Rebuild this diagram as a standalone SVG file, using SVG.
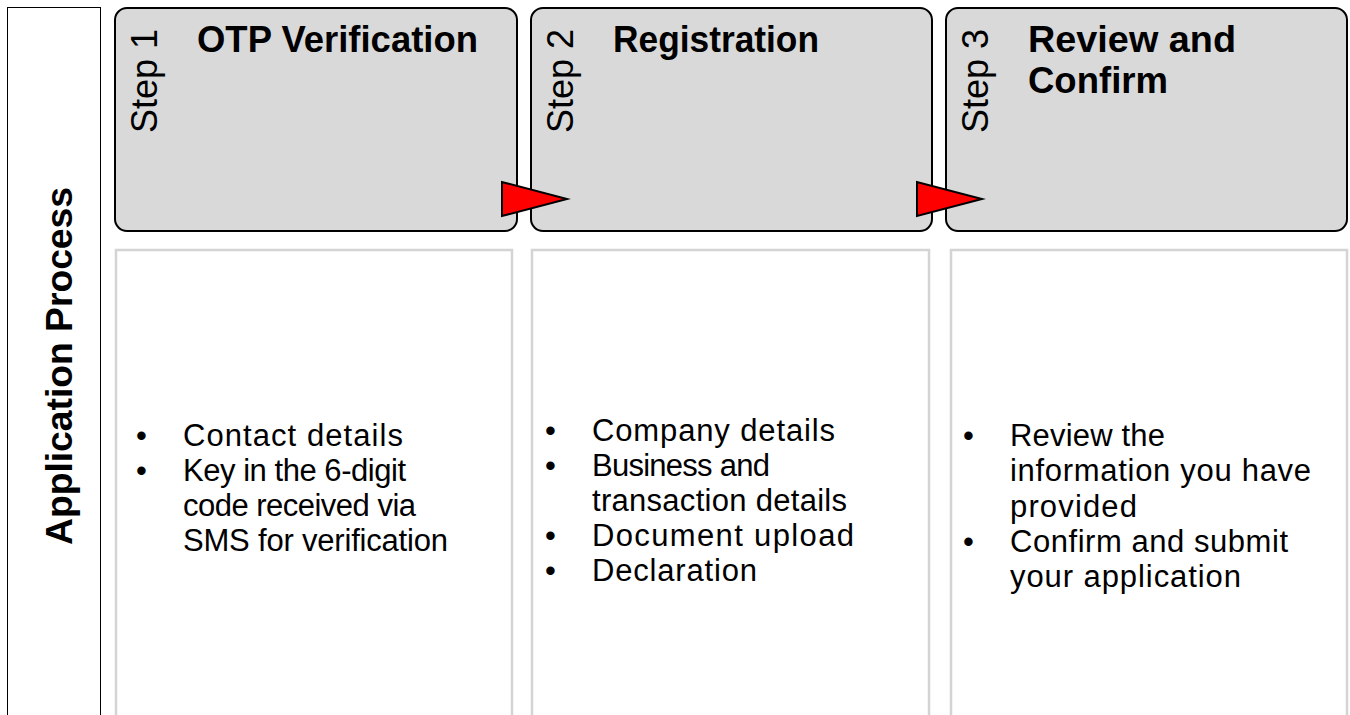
<svg xmlns="http://www.w3.org/2000/svg" width="1350" height="715" viewBox="0 0 1350 715">
  <style>
    .hdr { fill: #d9d9d9; stroke: #000; stroke-width: 2; }
    .body { fill: #fff; stroke: #d4d4d4; stroke-width: 2.5; }
    .lane { fill: #fff; stroke: #000; stroke-width: 1; }
    .step { font-family: "Liberation Sans", Arial, sans-serif; font-size: 36px; font-weight: normal; fill: #000; }
    .title { font-family: "Liberation Sans", Arial, sans-serif; font-size: 36px; font-weight: bold; fill: #000; }
    .lanetxt { font-family: "Liberation Sans", Arial, sans-serif; font-size: 37px; font-weight: bold; fill: #000; }
    .txt { font-family: "Liberation Sans", Arial, sans-serif; font-size: 31px; fill: #000; }
    .arrow { fill: #ff0000; stroke: #000; stroke-width: 2; stroke-linejoin: miter; }
  </style>
  <rect width="1350" height="715" fill="#fff"/>

  <g id="lane">
    <rect class="lane" x="7.5" y="7.5" width="93" height="720"/>
    <text class="lanetxt" transform="translate(72,366) rotate(-90)" text-anchor="middle" textLength="358" lengthAdjust="spacingAndGlyphs">Application Process</text>
  </g>

  <g id="step1">
    <rect class="hdr" x="115" y="8" width="402" height="223" rx="12" ry="12"/>
    <text class="step" transform="translate(157,133) rotate(-90)">Step 1</text>
    <text class="title" x="197" y="52" textLength="281" lengthAdjust="spacingAndGlyphs">OTP Verification</text>
  </g>

  <g id="step2">
    <rect class="hdr" x="531" y="8" width="401" height="223" rx="12" ry="12"/>
    <text class="step" transform="translate(573,133) rotate(-90)">Step 2</text>
    <text class="title" x="613" y="52" textLength="206" lengthAdjust="spacingAndGlyphs">Registration</text>
  </g>

  <g id="step3">
    <rect class="hdr" x="946" y="8" width="401" height="223" rx="12" ry="12"/>
    <text class="step" transform="translate(988,133) rotate(-90)">Step 3</text>
    <text class="title" x="1028" y="52" textLength="208" lengthAdjust="spacingAndGlyphs">Review and</text>
    <text class="title" x="1028" y="93" textLength="140" lengthAdjust="spacingAndGlyphs">Confirm</text>
  </g>

  <g id="body1">
    <rect class="body" x="116" y="250" width="396" height="480"/>
    <text class="txt" x="136" y="446">•</text>
    <text class="txt" x="183" y="446" textLength="220">Contact details</text>
    <text class="txt" x="136" y="481">•</text>
    <text class="txt" x="183" y="481" textLength="223">Key in the 6-digit</text>
    <text class="txt" x="183" y="516" textLength="233">code received via</text>
    <text class="txt" x="183" y="551" textLength="265">SMS for verification</text>
  </g>

  <g id="body2">
    <rect class="body" x="532" y="250" width="397" height="480"/>
    <text class="txt" x="545" y="441">•</text>
    <text class="txt" x="592" y="441" textLength="243">Company details</text>
    <text class="txt" x="545" y="476">•</text>
    <text class="txt" x="592" y="476" textLength="178">Business and</text>
    <text class="txt" x="592" y="511" textLength="255">transaction details</text>
    <text class="txt" x="545" y="546">•</text>
    <text class="txt" x="592" y="546" textLength="262">Document upload</text>
    <text class="txt" x="545" y="581">•</text>
    <text class="txt" x="592" y="581" textLength="165">Declaration</text>
  </g>

  <g id="body3">
    <rect class="body" x="951" y="250" width="396" height="480"/>
    <text class="txt" x="963" y="446">•</text>
    <text class="txt" x="1010" y="446" textLength="155">Review the</text>
    <text class="txt" x="1010" y="481" textLength="301">information you have</text>
    <text class="txt" x="1010" y="517" textLength="127">provided</text>
    <text class="txt" x="963" y="552">•</text>
    <text class="txt" x="1010" y="552" textLength="278">Confirm and submit</text>
    <text class="txt" x="1010" y="587" textLength="231">your application</text>
  </g>

  <g id="connectors">
    <polygon class="arrow" points="502,182 502,216 567,199"/>
    <polygon class="arrow" points="917,182 917,216 982,199"/>
  </g>
</svg>
